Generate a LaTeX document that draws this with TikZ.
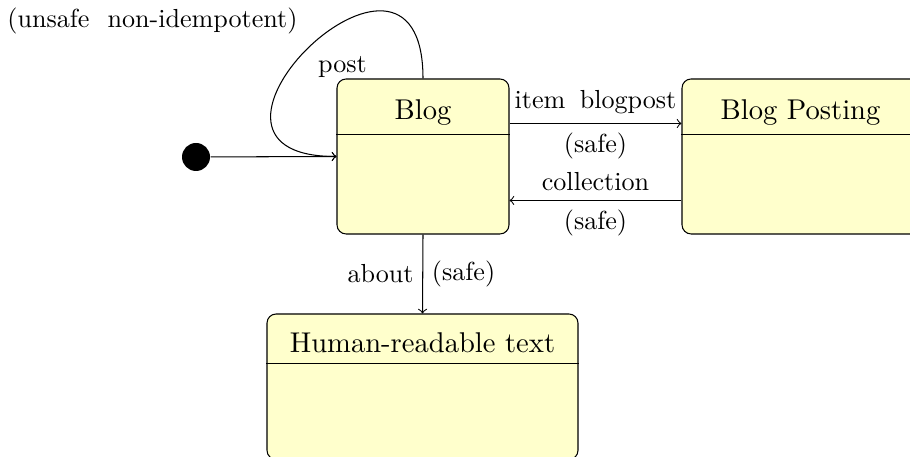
\documentclass[tikz,border=0pt]{standalone}
\usetikzlibrary{calc}
\newdimen\pu \pu=0.3831pt
\definecolor{stateyellow}{RGB}{255,255,204}
\tikzset{
  statebox/.style={draw, fill=stateyellow, rounded corners=3.5pt, inner sep=0pt},
  statetitle/.style={anchor=base, inner sep=0pt, font=\fontsize{10.95}{13.6}\selectfont},
  initdot/.style={circle, fill=black, minimum size=28\pu, inner sep=0pt},
  trans/.style={->},
}
\begin{document}
\begin{tikzpicture}[x=0.3831pt, y=0.3831pt]
\useasboundingbox (0,0) rectangle (910,457);
\clip (0,0) rectangle (910,457);

% states
\node[statebox, minimum width=172\pu, minimum height=155\pu] (blog) at (423,300.5) {};
\node[statetitle] (blogtitle) at ($(blog.north)+(0,-41.5)$) {Blog};
\draw ($(blog.north west)+(0,-56)$) -- ($(blog.north east)+(0,-56)$);

\node[statebox, minimum width=237\pu, minimum height=155\pu] (posting) at (800.5,300.5) {};
\node[statetitle] (postingtitle) at ($(posting.north)+(0,-41)$) {Blog Posting};
\draw ($(posting.north west)+(0,-56)$) -- ($(posting.north east)+(0,-56)$);

\node[statebox, minimum width=311\pu, minimum height=145.5\pu] (human) at (422.5,70.25) {};
\node[statetitle] (humantitle) at ($(human.north)+(0,-39.5)$) {Human-readable text};
\draw ($(human.north west)+(0,-50)$) -- ($(human.north east)+(0,-50)$);

% initial state
\node[initdot] (init) at (196,300) {};

% transitions
\draw[trans] (init) -- (blog.west);
\draw[trans] (blog.north) .. controls +(0,189) and +(-187,0) .. (blog.west);
\node[anchor=base] (postlbl) at ($(blog.north west)+(6,6)$) {post};
\node[anchor=base] (unsafelbl) at ($(blog.north west)+(-184,51)$) {(unsafe\hspace{0.69em}non-idempotent)};

\draw[trans] ($(blog.north east)+(0,-45)$) -- node[above] {item\hspace{0.55em}blogpost} node[below] {(safe)} ($(posting.north west)+(0,-45)$);
\draw[trans] ($(posting.north west)+(0,-122)$) -- node[above] {collection} node[below] {(safe)} ($(blog.north east)+(0,-122)$);
\draw[trans] (blog.south) -- node[left] {about} node[right] {(safe)} (human.north);
\end{tikzpicture}
\end{document}
